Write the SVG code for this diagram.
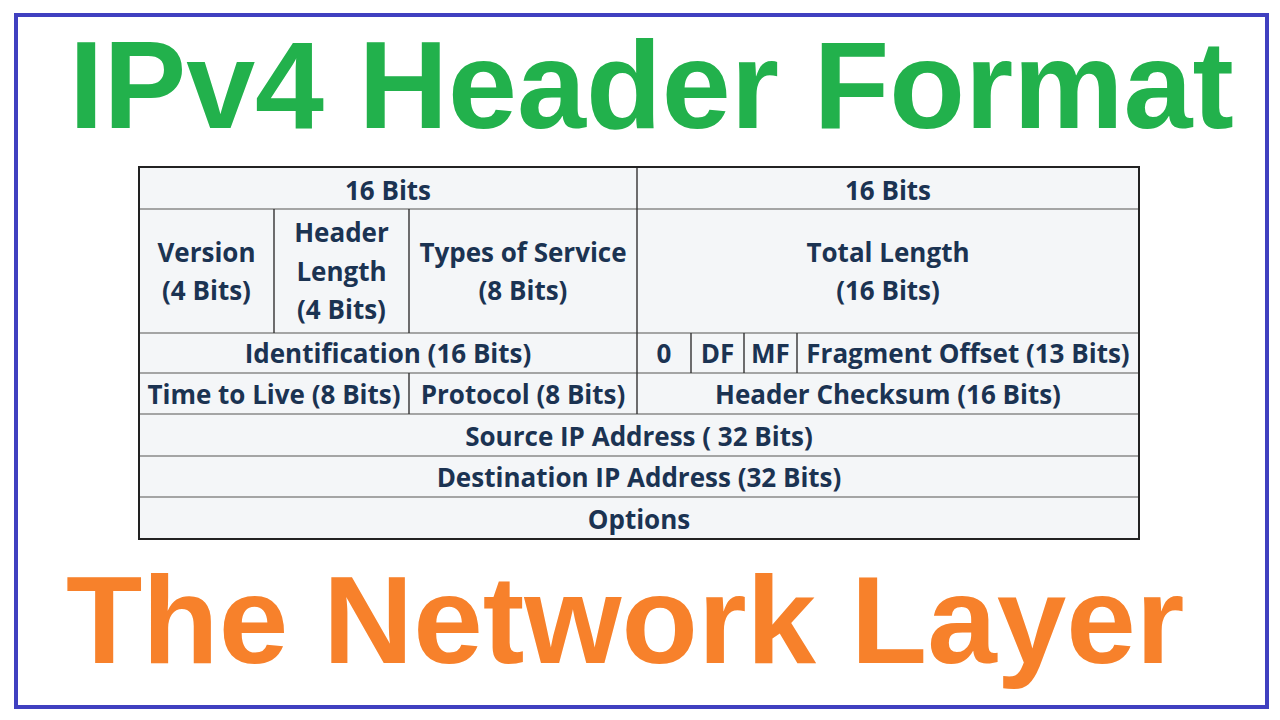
<svg xmlns="http://www.w3.org/2000/svg" width="1280" height="720" viewBox="0 0 1280 720">
<style>
.t{font-family:"Open Sans","Liberation Sans",sans-serif;font-weight:700;font-size:26px;fill:#1b3352;text-anchor:middle}
.h{stroke:#8a8a8a;stroke-width:1.6;fill:none}
.v{stroke:#333;stroke-width:1.4;fill:none}
.title{font-family:"Liberation Sans",Arial,sans-serif;font-weight:700;font-size:124px}
</style>
<rect x="0" y="0" width="1280" height="720" fill="#ffffff"/>
<rect id="frame" x="16" y="15" width="1251" height="692" fill="none" stroke="#4040c0" stroke-width="4"/>
<text id="title" class="title" x="69" y="128" fill="#22b14c">IPv4 Header Format</text>
<text id="subtitle" class="title" x="66" y="663" fill="#f7812b" style="font-size:125px">The Network Layer</text>
<g id="table">
<rect x="139" y="167" width="1000" height="372" fill="#f4f6f8"/>
<g id="grid">
<line class="h" x1="139" y1="209" x2="1139" y2="209"/>
<line class="h" x1="139" y1="333" x2="1139" y2="333"/>
<line class="h" x1="139" y1="373" x2="1139" y2="373"/>
<line class="h" x1="139" y1="414" x2="1139" y2="414"/>
<line class="h" x1="139" y1="456" x2="1139" y2="456"/>
<line class="h" x1="139" y1="497" x2="1139" y2="497"/>
<line class="v" x1="637" y1="167" x2="637" y2="414"/>
<line class="v" x1="274" y1="209" x2="274" y2="333"/>
<line class="v" x1="409" y1="209" x2="409" y2="333"/>
<line class="v" x1="409" y1="373" x2="409" y2="414"/>
<line class="v" x1="691" y1="333" x2="691" y2="373"/>
<line class="v" x1="744" y1="333" x2="744" y2="373"/>
<line class="v" x1="797" y1="333" x2="797" y2="373"/>
</g>
<rect x="139" y="167" width="1000" height="372" fill="none" stroke="#222" stroke-width="2"/>
</g>
<g id="bits-left"><text class="t" x="388" y="200">16 Bits</text></g>
<g id="bits-right"><text class="t" x="888" y="200">16 Bits</text></g>
<g id="version"><text class="t" x="206.5" y="262">Version</text><text class="t" x="206.5" y="300">(4 Bits)</text></g>
<g id="header-length"><text class="t" x="341.5" y="242">Header</text><text class="t" x="341.5" y="281">Length</text><text class="t" x="341.5" y="319">(4 Bits)</text></g>
<g id="tos"><text class="t" x="523" y="262">Types of Service</text><text class="t" x="523" y="300">(8 Bits)</text></g>
<g id="total-length"><text class="t" x="888" y="262">Total Length</text><text class="t" x="888" y="300">(16 Bits)</text></g>
<g id="identification"><text class="t" x="388" y="363">Identification (16 Bits)</text></g>
<g id="zero"><text class="t" x="664" y="363">0</text></g>
<g id="df"><text class="t" x="717.5" y="363">DF</text></g>
<g id="mf"><text class="t" x="770.5" y="363">MF</text></g>
<g id="fragment"><text class="t" x="968" y="363">Fragment Offset (13 Bits)</text></g>
<g id="ttl"><text class="t" x="274" y="404">Time to Live (8 Bits)</text></g>
<g id="protocol"><text class="t" x="523" y="404">Protocol (8 Bits)</text></g>
<g id="checksum"><text class="t" x="888" y="404">Header Checksum (16 Bits)</text></g>
<g id="source"><text class="t" x="639" y="446">Source IP Address ( 32 Bits)</text></g>
<g id="destination"><text class="t" x="639" y="487">Destination IP Address (32 Bits)</text></g>
<g id="options"><text class="t" x="639" y="529">Options</text></g>
<g id="connectors"></g>
</svg>
